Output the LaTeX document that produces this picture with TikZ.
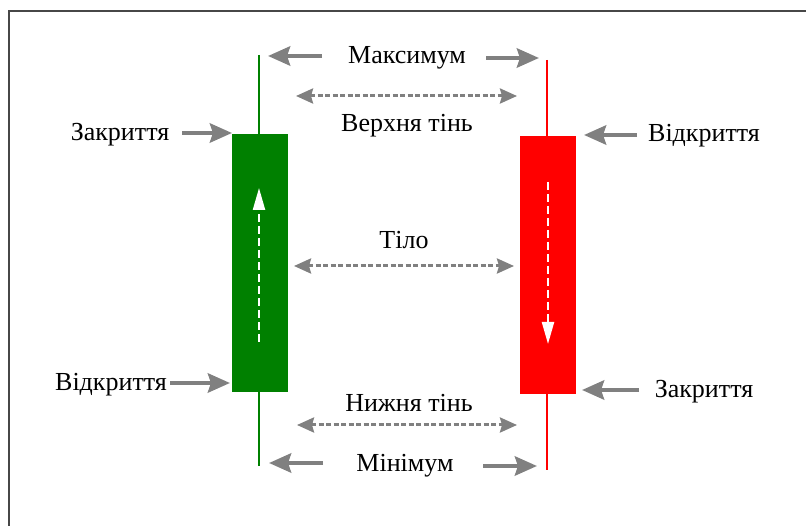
\documentclass[tikz,border=0pt]{standalone}
\usepackage{fontspec}
\setmainfont{Liberation Serif}
\usetikzlibrary{arrows.meta}
\definecolor{framegray}{HTML}{474747}
\definecolor{arrgray}{HTML}{808080}
\definecolor{bullgreen}{HTML}{008000}
\definecolor{bearred}{HTML}{FF0000}
\tikzset{
  lbl/.style={font=\fontsize{26}{30}\selectfont, inner sep=0pt, yshift=-2pt},
  solidarr/.style={arrgray, line width=4.5pt, -{Stealth[length=22pt,width=19pt,inset=3pt]}},
  dasharr/.style={arrgray, line width=3pt, dash pattern=on 5pt off 2.5pt, {Stealth[length=17pt,width=15pt,inset=2pt]}-{Stealth[length=17pt,width=15pt,inset=2pt]}},
  whitearr/.style={white, line width=2.2pt, dash pattern=on 8pt off 4pt, -{Triangle[length=22pt,width=12pt]}},
}
\begin{document}
\begin{tikzpicture}[x=1pt,y=-1pt]
\useasboundingbox (0,0) rectangle (806,526);
% frame
\draw[framegray, line width=2pt] (8.5,526) -- (8.5,11.5) -- (806,11.5);
% green candle
\draw[bullgreen, line width=2pt] (259,55) -- (259,466);
\fill[bullgreen] (232,134) rectangle (288,392);
\coordinate (gb) at (259,342);
\coordinate (gt) at (259,188);
\draw[whitearr] (gb) -- (gt);
% red candle
\draw[bearred, line width=2.5pt] (547,60) -- (547,470);
\fill[bearred] (520,136) rectangle (576,394);
\coordinate (rt) at (548,182);
\coordinate (rb) at (548,344);
\draw[whitearr] (rt) -- (rb);
% labels
\node[lbl] (max) at (407,56) {Максимум};
\node[lbl] (ush) at (407,124) {Верхня тінь};
\node[lbl] (body) at (404,238) {Тіло};
\node[lbl] (lsh) at (409,401) {Нижня тінь};
\node[lbl] (min) at (405,464) {Мінімум};
\node[lbl] (zl) at (120,133) {Закриття};
\node[lbl] (vr) at (704,134) {Відкриття};
\node[lbl] (vl) at (111,383) {Відкриття};
\node[lbl] (zr) at (704,390) {Закриття};
% arrow end coordinates
\coordinate (maxLs) at (322,56);  \coordinate (maxL) at (268,56);
\coordinate (maxRs) at (486,58);  \coordinate (maxR) at (539,58);
\coordinate (minLs) at (323,463); \coordinate (minL) at (269,463);
\coordinate (minRs) at (483,466); \coordinate (minR) at (537,466);
\coordinate (zlS) at (182,133);   \coordinate (zlT) at (232,133);
\coordinate (vrS) at (637,135);   \coordinate (vrT) at (584,135);
\coordinate (vlS) at (170,383);   \coordinate (vlT) at (230,383);
\coordinate (zrS) at (639,390);   \coordinate (zrT) at (582,390);
% solid arrows
\draw[solidarr] (maxLs) -- (maxL);
\draw[solidarr] (maxRs) -- (maxR);
\draw[solidarr] (minLs) -- (minL);
\draw[solidarr] (minRs) -- (minR);
\draw[solidarr] (zlS) -- (zlT);
\draw[solidarr] (vrS) -- (vrT);
\draw[solidarr] (vlS) -- (vlT);
\draw[solidarr] (zrS) -- (zrT);
% dashed double arrows
\coordinate (u1) at (296,96); \coordinate (u2) at (517,96);
\coordinate (b1) at (294,266); \coordinate (b2) at (514,266);
\coordinate (l1) at (297,425); \coordinate (l2) at (517,425);
\draw[dasharr] (u1) -- (u2);
\draw[dasharr] (b1) -- (b2);
\draw[dasharr] (l1) -- (l2);
\end{tikzpicture}
\end{document}
